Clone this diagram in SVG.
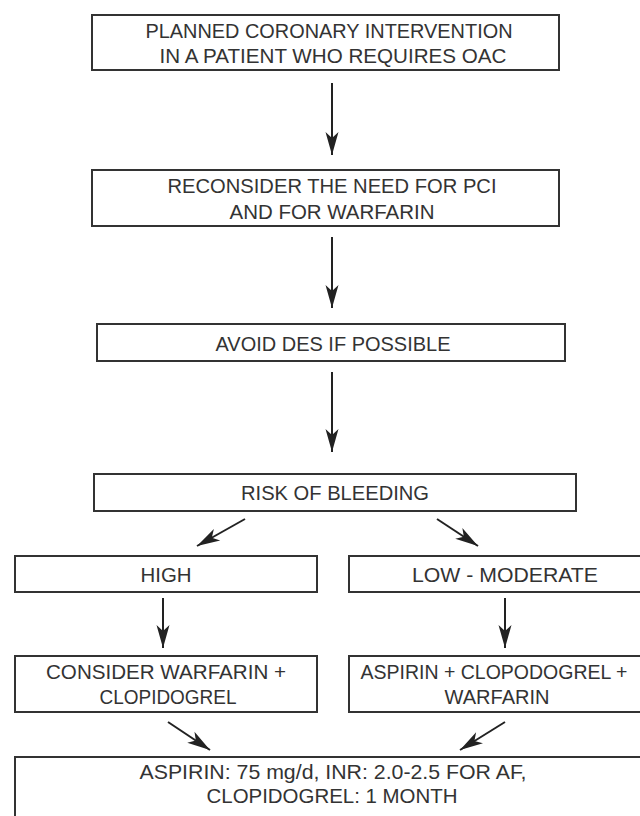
<svg xmlns="http://www.w3.org/2000/svg" width="640" height="816" viewBox="0 0 640 816">
<style>
.box{fill:#fff;stroke:#333;stroke-width:2}
.t{font-family:"Liberation Sans",Arial,sans-serif;font-size:21px;fill:#333;text-anchor:middle}
.c{stroke:#222;stroke-width:2;fill:none;marker-end:url(#ah)}
</style>
<defs>
<marker id="ah" viewBox="-25 -8 27 16" refX="0" refY="0" markerWidth="27" markerHeight="16" markerUnits="userSpaceOnUse" orient="auto">
<path d="M0,0 L-23,-6.5 L-17,0 L-23,6.5 Z" fill="#222"/>
</marker>
</defs>
<rect width="640" height="816" fill="#fff"/>
<g id="connectors">
<line class="c" x1="332" y1="83" x2="332" y2="155"/>
<line class="c" x1="332" y1="237" x2="332" y2="308"/>
<line class="c" x1="332" y1="372" x2="332" y2="452"/>
<line class="c" x1="245" y1="519" x2="197" y2="546"/>
<line class="c" x1="437" y1="519" x2="478" y2="546"/>
<line class="c" x1="163" y1="598" x2="163" y2="648"/>
<line class="c" x1="505" y1="598" x2="505" y2="648"/>
<line class="c" x1="168" y1="722" x2="210" y2="750"/>
<line class="c" x1="505" y1="722" x2="460" y2="750"/>
</g>
<g id="n1">
<rect class="box" x="92" y="15" width="467" height="55"/>
<text class="t" x="329" y="38" textLength="367" lengthAdjust="spacingAndGlyphs">PLANNED CORONARY INTERVENTION</text>
<text class="t" x="333" y="63" textLength="347" lengthAdjust="spacingAndGlyphs">IN A PATIENT WHO REQUIRES OAC</text>
</g>
<g id="n2">
<rect class="box" x="92" y="170" width="467" height="56"/>
<text class="t" x="332" y="193" textLength="329" lengthAdjust="spacingAndGlyphs">RECONSIDER THE NEED FOR PCI</text>
<text class="t" x="332" y="219" textLength="205" lengthAdjust="spacingAndGlyphs">AND FOR WARFARIN</text>
</g>
<g id="n3">
<rect class="box" x="97" y="324" width="468" height="37"/>
<text class="t" x="333" y="351" textLength="235" lengthAdjust="spacingAndGlyphs">AVOID DES IF POSSIBLE</text>
</g>
<g id="n4">
<rect class="box" x="94" y="474" width="482" height="37"/>
<text class="t" x="335" y="500" textLength="188" lengthAdjust="spacingAndGlyphs">RISK OF BLEEDING</text>
</g>
<g id="n5">
<rect class="box" x="15" y="556" width="302" height="36"/>
<text class="t" x="166" y="582" textLength="51" lengthAdjust="spacingAndGlyphs">HIGH</text>
</g>
<g id="n6">
<rect class="box" x="349" y="556" width="302" height="36"/>
<text class="t" x="505" y="582" textLength="186" lengthAdjust="spacingAndGlyphs">LOW - MODERATE</text>
</g>
<g id="n7">
<rect class="box" x="15" y="656" width="302" height="56"/>
<text class="t" x="166" y="679" textLength="240" lengthAdjust="spacingAndGlyphs">CONSIDER WARFARIN +</text>
<text class="t" x="168" y="704" textLength="137" lengthAdjust="spacingAndGlyphs">CLOPIDOGREL</text>
</g>
<g id="n8">
<rect class="box" x="349" y="656" width="302" height="56"/>
<text class="t" x="494" y="679" style="font-size:19.5px">ASPIRIN + CLOPODOGREL +</text>
<text class="t" x="497" y="704" textLength="105" lengthAdjust="spacingAndGlyphs">WARFARIN</text>
</g>
<g id="n9">
<rect class="box" x="15" y="757" width="636" height="80"/>
<text class="t" x="333" y="779" textLength="387" lengthAdjust="spacingAndGlyphs">ASPIRIN: 75 mg/d, INR: 2.0-2.5 FOR AF,</text>
<text class="t" x="332" y="803" textLength="251" lengthAdjust="spacingAndGlyphs">CLOPIDOGREL: 1 MONTH</text>
</g>
</svg>
